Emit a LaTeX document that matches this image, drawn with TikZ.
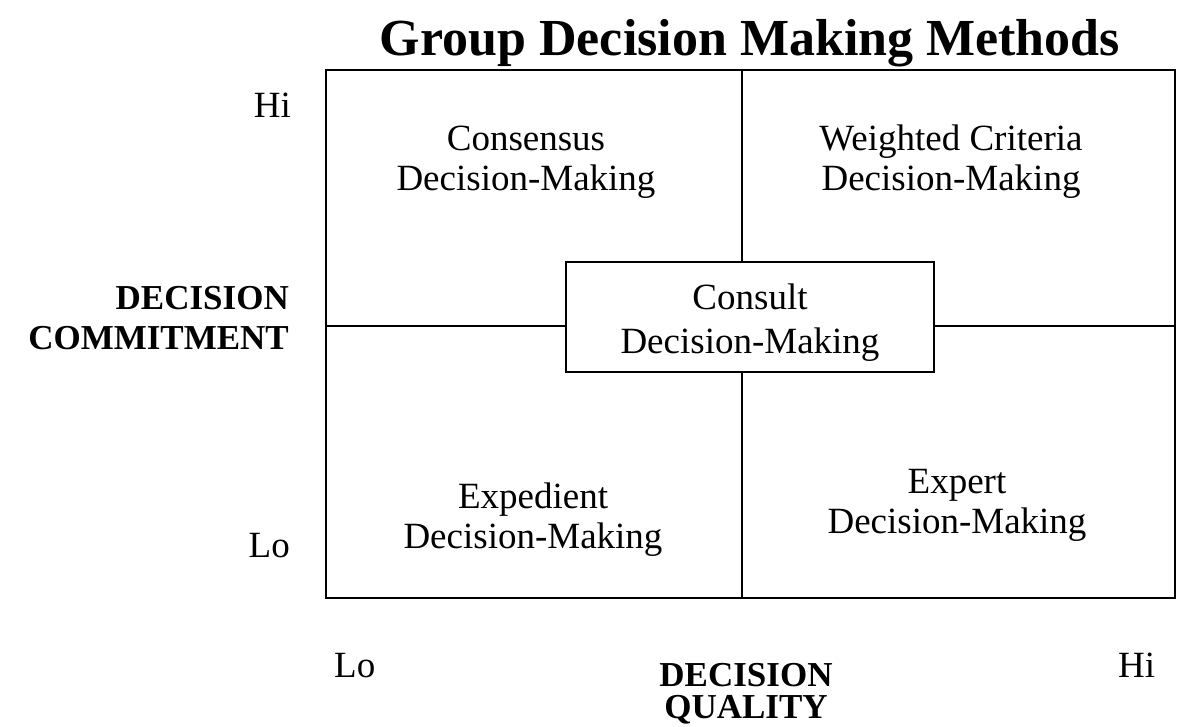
\documentclass[tikz,border=0pt]{standalone}
\usepackage{fontspec}
\setmainfont{Liberation Serif}
\newcommand{\twol}[2]{\begin{tabular}[t]{@{}c@{}}#1\\#2\end{tabular}}
\tikzset{
  frame/.style={line width=2.2pt, line cap=rect},
  lbl/.style={anchor=base, inner sep=0pt, font=\fontsize{37}{40}\selectfont},
  lblwide/.style={anchor=base, inner sep=0pt, font=\fontsize{37}{44}\selectfont},
  axis/.style={anchor=base, inner sep=0pt, font=\fontsize{35}{40}\selectfont\bfseries},
  axisb/.style={anchor=base, inner sep=0pt, font=\fontsize{35}{31}\selectfont\bfseries},
  ttl/.style={anchor=base, inner sep=0pt, font=\fontsize{52}{60}\selectfont\bfseries},
  boxed/.style={draw, line width=2.2pt, minimum width=368pt, minimum height=110pt, inner sep=0pt, fill=white}
}
\begin{document}
\begin{tikzpicture}[x=1pt,y=-1pt]
\useasboundingbox (0,0) rectangle (1178,726);
% title
\node[ttl] (title) at (750,55) {Group Decision Making Methods};
% frame corners and mid points
\coordinate (tl) at (326,70);
\coordinate (br) at (1175,598);
\coordinate (tm) at (742,70);
\coordinate (bm) at (742,598);
\coordinate (lm) at (326,326);
\coordinate (rm) at (1175,326);
\draw[frame] (tl) rectangle (br);
\node[boxed] (consult) at (750,317) {};
\draw[frame] (tm) -- (consult.north -| tm);
\draw[frame] (bm) -- (consult.south -| bm);
\draw[frame] (lm) -- (consult.west |- lm);
\draw[frame] (rm) -- (consult.east |- rm);
% quadrant texts
\node[lbl] (consensus) at (526,150) {\twol{Consensus}{Decision-Making}};
\node[lbl] (weighted) at (951,150) {\twol{Weighted Criteria}{Decision-Making}};
\node[lblwide] (consulttxt) at (750,309) {\twol{Consult}{Decision-Making}};
\node[lbl] (expedient) at (533,508) {\twol{Expedient}{Decision-Making}};
\node[lbl] (expert) at (957,493) {\twol{Expert}{Decision-Making}};
% axis tick labels
\node[lbl, anchor=base east] (yhi) at (291,117) {Hi};
\node[lbl, anchor=base east] (ylo) at (290,557) {Lo};
\node[lbl, anchor=base west] (xlo) at (334,677) {Lo};
\node[lbl, anchor=base west] (xhi) at (1118,677) {Hi};
% axis titles
\node[axis, anchor=base east] (ytitle) at (289,309) {\begin{tabular}[t]{@{}r@{}}DECISION\\COMMITMENT\end{tabular}};
\node[axisb] (xtitle) at (746,686) {\begin{tabular}[t]{@{}c@{}}DECISION\\QUALITY\end{tabular}};
\end{tikzpicture}
\end{document}
